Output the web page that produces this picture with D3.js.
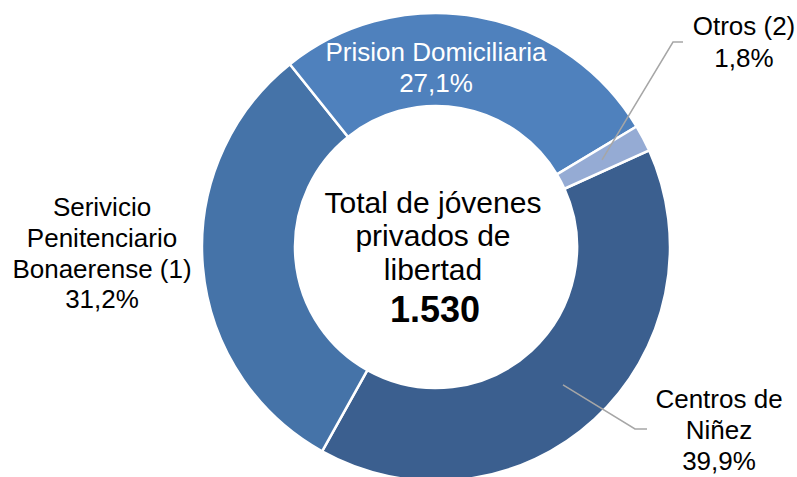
<!DOCTYPE html>
<html lang="es">
<meta charset="utf-8">
<title>Jóvenes privados de libertad</title>
<style>
    body { margin: 0; background: #ffffff; }
    svg  { display: block; font-family: "Liberation Sans", Arial, sans-serif; }
</style>
<body>
<svg id="canvas"></svg>
<script src="https://cdn.jsdelivr.net/npm/d3@7/dist/d3.min.js"></script>
<script>

    ////////////////////// Data ///////////////////////
    var categories = ["Centros de Niñez", "Serivicio Penitenciario Bonaerense (1)", "Prision Domiciliaria", "Otros (2)"];
    var counts     = [610, 477, 415, 28];
    var percents   = ["39,9%", "31,2%", "27,1%", "1,8%"];
    var total_text = "1.530";
    ///////////////////////////////////////////////////

    ///////// Position and Dimension Variables ////////
    var dimensions   = [797, 477];
    var center       = [436, 247];
    var outer_radius = 234;
    var inner_radius = 141;
    var start_angle  = 65.6 * Math.PI / 180;
    ///////////////////////////////////////////////////

    ///////////////// Style Variables /////////////////
    var slice_colors = ['#3b5f8f', '#4573a8', '#4f81bd', '#95abd4'];
    var line_color   = '#a6a6a6';
    var label_size   = 26;
    var center_size  = 30;
    var total_size   = 36;
    ///////////////////////////////////////////////////

    // label blocks: lines, anchor x, first baseline, line step, colour
    var label_layout = [
        { lines: ["Centros de", "Niñez", percents[0]],                     x: 719, y: 408, dy: 31, fill: 'black' },
        { lines: ["Serivicio", "Penitenciario", "Bonaerense (1)", percents[1]], x: 102, y: 216, dy: 30.8, fill: 'black' },
        { lines: ["Prision Domiciliaria", percents[2]],                     x: 436, y: 61,  dy: 30.5, fill: 'white' },
        { lines: ["Otros (2)", percents[3]],                                x: 744, y: 35,  dy: 31.5, fill: 'black' }
    ];
    // leader line elbows (label side), null for none
    var leader_layout = [
        [[647, 429], [635, 429]],
        null,
        null,
        [[683, 42], [673, 42]]
    ];

    var canvas = d3.select("#canvas")
        .attr('width',  dimensions[0])
        .attr('height', dimensions[1]);

    var pie = d3.pie()
        .sort(null)
        .value(function (d) { return d; })
        .startAngle(start_angle)
        .endAngle(start_angle + 2 * Math.PI);

    var arc = d3.arc()
        .innerRadius(inner_radius)
        .outerRadius(outer_radius);

    var arcs = pie(counts);

    var ring = canvas.append("g")
        .attr('transform', 'translate(' + center[0] + ',' + center[1] + ')');

    ring.selectAll("path.slice")
        .data(arcs)
        .enter().append("path")
        .attr('class', 'slice')
        .attr('d', arc)
        .attr('fill', function (d, i) { return slice_colors[i]; })
        .attr('stroke', 'white')
        .attr('stroke-width', 2.5)
        .attr('stroke-linejoin', 'miter');

    //////////////////// leader lines /////////////////
    arcs.forEach(function (d, i) {
        var elbow = leader_layout[i];
        if (!elbow) return;
        var c = arc.centroid(d);
        var pts = [elbow[0], elbow[1], [c[0] + center[0], c[1] + center[1]]];
        canvas.append("path")
            .attr('d', d3.line()(pts))
            .attr('fill', 'none')
            .attr('stroke', line_color)
            .attr('stroke-width', 1.5);
    });

    ////////////////////// labels /////////////////////
    label_layout.forEach(function (L) {
        var t = canvas.append("text")
            .attr('text-anchor', 'middle')
            .attr('font-size', label_size)
            .attr('fill', L.fill);
        L.lines.forEach(function (s, j) {
            t.append("tspan")
                .attr('x', L.x)
                .attr('y', L.y + j * L.dy)
                .text(s);
        });
    });

    ////////////////// centre caption /////////////////
    var caption = ["Total de jóvenes", "privados de", "libertad"];
    var cap = canvas.append("text")
        .attr('text-anchor', 'middle')
        .attr('font-size', center_size)
        .attr('fill', 'black');
    caption.forEach(function (s, j) {
        cap.append("tspan")
            .attr('x', 433)
            .attr('y', 213 + j * 33.3)
            .text(s);
    });
    canvas.append("text")
        .attr('x', 435)
        .attr('y', 322)
        .attr('text-anchor', 'middle')
        .attr('font-size', total_size)
        .attr('font-weight', 'bold')
        .attr('fill', 'black')
        .text(total_text);

</script>
</body>
</html>
